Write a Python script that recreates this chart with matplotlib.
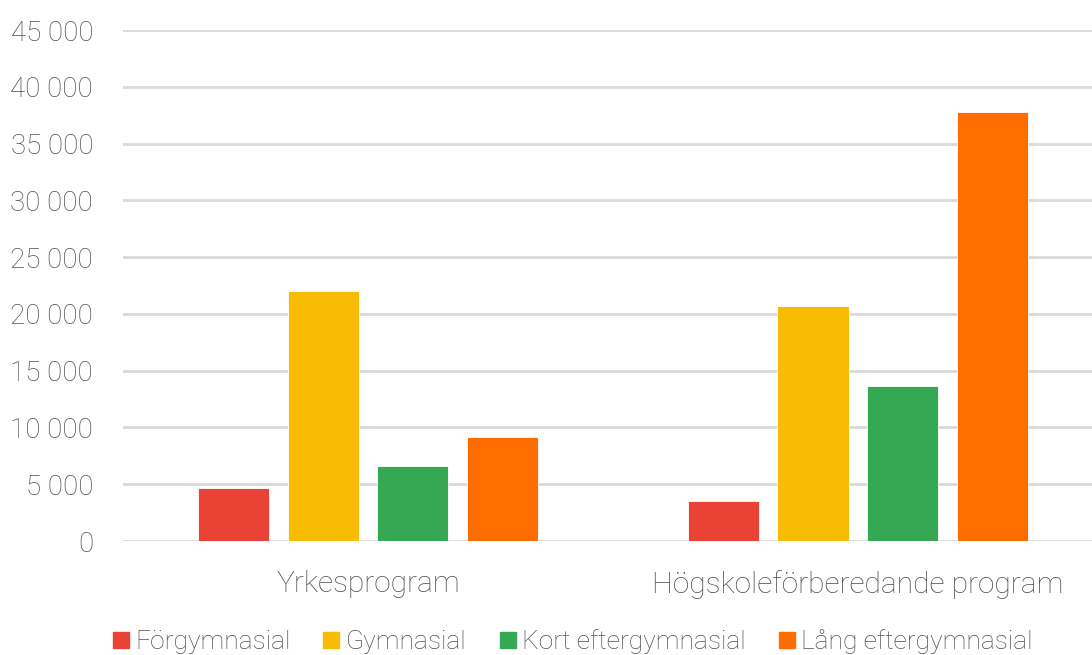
import numpy as np
import matplotlib.pyplot as plt
from matplotlib.ticker import FuncFormatter, MultipleLocator
from matplotlib.lines import Line2D

plt.rcParams['font.family'] = ['Roboto', 'DejaVu Sans']
plt.rcParams['font.weight'] = 'light'

categories = ['Yrkesprogram', 'Högskoleförberedande program']
series = ['Förgymnasial', 'Gymnasial', 'Kort eftergymnasial', 'Lång eftergymnasial']
values = [
    [4650, 3520],    # Förgymnasial
    [22000, 20700],  # Gymnasial
    [6600, 13650],   # Kort eftergymnasial
    [9150, 37750],   # Lång eftergymnasial
]
colors = ['#EA4335', '#F9BC05', '#34A853', '#FF6D00']

text_col = '#505050'
grid_col = '#d9d9d9'

fig = plt.figure(figsize=(10.92, 6.55), dpi=100)
ax = fig.add_axes([123 / 1092, 0.174, 1 - 123 / 1092, 0.780])

x = np.arange(len(categories))
step = 0.183
width = 0.145
for i, (name, vals) in enumerate(zip(series, values)):
    ax.bar(x + (i - 1.5) * step, vals, width, color=colors[i], label=name,
           zorder=3, edgecolor='white', linewidth=0.6)

ax.set_ylim(0, 45000)
ax.set_xlim(-0.5, 1.478)
ax.yaxis.set_major_locator(MultipleLocator(5000))
ax.yaxis.set_major_formatter(FuncFormatter(lambda v, p: f"{v:,.0f}".replace(",", " ")))
ax.grid(axis='y', color=grid_col, linewidth=2, zorder=0)
for s in ax.spines.values():
    s.set_visible(False)
ax.tick_params(axis='both', length=0, colors=text_col)
ax.tick_params(axis='y', pad=21.5, labelsize=20)
ax.tick_params(axis='x', pad=21, labelsize=21.5)
ax.set_xticks(x)
ax.set_xticklabels(categories)

handles = [Line2D([], [], marker='s', linestyle='none', markersize=11,
                  markerfacecolor=c, markeredgecolor=c) for c in colors]
leg = fig.legend(handles, series, loc='lower center', bbox_to_anchor=(0.522, -0.035),
                 ncol=4, frameon=False, fontsize=19, handletextpad=0.05,
                 columnspacing=1.05, handlelength=1.0)
for t in leg.get_texts():
    t.set_color(text_col)

fig.savefig('out.png', dpi=100)
